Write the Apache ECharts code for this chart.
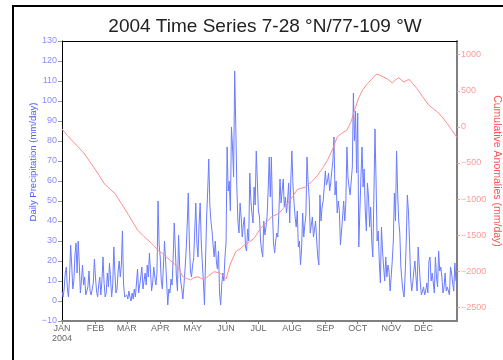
<!DOCTYPE html>
<html>
<head>
<meta charset="utf-8">
<script src="https://cdn.jsdelivr.net/npm/echarts@6/dist/echarts.min.js"></script>
<style>
    html, body { margin: 0; padding: 0; background: #fff; }
    #chart { width: 503px; height: 360px; }
</style>
</head>
<body>
<div id="chart"></div>
<script>
    // day-of-year where each month starts (2004 is a leap year)
    var monthStarts = [0, 31, 60, 91, 121, 152, 182, 213, 244, 274, 305, 335];
    var monthNames = ['JAN', 'FEB', 'MAR', 'APR', 'MAY', 'JUN', 'JUL', 'AUG', 'SEP', 'OCT', 'NOV', 'DEC'];
    var anomalyTicks = [-2500, -2000, -1500, -1000, -500, 0, 500, 1000];

    // daily precipitation (mm/day), one array per month
    var jan = [5, 2, 6, 14, 17, 6, 2, 12, 28, 18, 6, 10, 23, 29, 14, 30, 19, 4, 10, 18, 8, 12, 3, 2, 7, 15, 5, 3, 2, 9, 21];
    var feb = [12, 5, 2, 8, 12, 3, 10, 22, 9, 2, 4, 14, 7, 19, 11, 2, 8, 27, 14, 4, 6, 15, 20, 12, 18, 35, 9, 2, 1];
    var mar = [3, 1, 5, 2, 0, 4, 1, 6, 2, 9, 16, 4, 8, 12, 17, 6, 10, 14, 8, 18, 12, 24, 15, 5, 9, 17, 12, 8, 14, 50, 28];
    var apr = [22, 10, 6, 18, 30, 20, 9, -2, 6, 4, 11, 8, 22, 39, 26, 12, 5, 33, 18, 10, 6, 1, 8, 16, 25, 38, 54, 30, 15, 12];
    var may = [18, 21, 35, 49, 29, 22, 38, 49, 30, 19, 10, -2, 20, 42, 55, 71, 48, 40, 35, 28, 22, 30, 20, 16, 25, 4, -2, 8, 14, 10, 22];
    var jun = [29, 77, 55, 60, 45, 87, 77, 62, 115, 88, 57, 40, 34, 49, 42, 32, 38, 42, 27, 25, 36, 30, 64, 50, 44, 39, 57, 48, 75, 60];
    var jul = [45, 42, 30, 25, 22, 40, 33, 37, 42, 55, 72, 52, 72, 45, 29, 24, 30, 34, 32, 45, 61, 49, 55, 61, 47, 52, 44, 50, 59, 39, 60];
    var aug = [75, 58, 49, 42, 37, 45, 27, 30, 18, 26, 44, 32, 38, 43, 72, 60, 52, 34, 38, 42, 32, 36, 40, 30, 22, 18, 53, 40, 47, 50, 57];
    var sep = [65, 58, 60, 64, 55, 59, 65, 70, 82, 53, 60, 44, 50, 45, 28, 35, 42, 50, 40, 49, 77, 62, 57, 53, 60, 67, 104, 80, 95, 64];
    var oct = [94, 27, 45, 62, 77, 57, 66, 45, 35, 59, 52, 37, 47, 30, 22, 53, 86, 60, 30, 35, 20, 9, 37, 25, 17, 10, 22, 12, 18, 15, 5];
    var nov = [12, 20, 30, 54, 40, 75, 54, 40, 34, 17, 10, 5, 2, 14, 30, 53, 45, 30, 12, 5, 9, 15, 20, 12, 5, 27, 18, 9, 3, 4];
    var dec = [7, 3, 5, 9, 4, 20, 22, 10, 14, 9, 4, 22, 12, 7, 25, 15, 17, 12, 4, 7, 14, 5, 7, 8, 3, 17, 14, 9, 5, 19, 10];
    var precip = jan.concat(feb, mar, apr, may, jun, jul, aug, sep, oct, nov, dec);

    // cumulative anomalies (mm/day), read at these days of the year
    var anomalyDays = [0, 5, 10, 15, 20, 27, 33, 39, 45, 49, 55, 62, 70, 76, 83, 89, 95, 101, 107, 112, 115, 119, 122, 126, 129, 132, 136, 141, 147, 152, 156, 161, 165, 169, 174, 178, 184, 189, 194, 201, 205, 209, 214, 218, 226, 232, 237, 242, 246, 251, 255, 260, 264, 268, 271, 275, 279, 283, 287, 291, 294, 298, 302, 306, 309, 312, 315, 317, 320, 322, 325, 329, 334, 340, 344, 348, 352, 357, 361, 366];
    var anomalyValues = [-30, -120, -200, -278, -360, -507, -640, -784, -870, -922, -1061, -1230, -1430, -1520, -1614, -1706, -1780, -1860, -1937, -2076, -2098, -2121, -2090, -2076, -2100, -2121, -2060, -2007, -2029, -2108, -1900, -1730, -1690, -1637, -1590, -1545, -1406, -1330, -1246, -1199, -1130, -1061, -960, -867, -831, -750, -669, -560, -462, -300, -140, -80, -47, 80, 230, 405, 520, 599, 660, 728, 720, 690, 660, 607, 650, 682, 640, 621, 650, 654, 600, 530, 420, 299, 250, 206, 140, 46, -40, -148];

    var minus = function (v) { return String(v).replace('-', '\u2212'); };
    var labelFont = 'Liberation Sans';

    var myChart = echarts.init(document.getElementById('chart'));
    myChart.setOption({
        animation: false,
        title: {
            text: '2004 Time Series 7-28 °N/77-109 °W',
            left: 260,
            top: 12,
            textAlign: 'center',
            textStyle: { fontFamily: labelFont, fontSize: 19, fontWeight: 'normal', color: '#222' }
        },
        grid: { left: 62, top: 41, width: 395, height: 280 },
        xAxis: [
            {
                type: 'value',
                min: 0,
                max: 366,
                axisLine: { onZero: false, lineStyle: { color: '#808080', width: 2 } },
                axisTick: { customValues: monthStarts, length: 3, lineStyle: { color: '#808080' } },
                axisLabel: {
                    customValues: monthStarts,
                    color: '#666',
                    fontFamily: labelFont,
                    fontSize: 9,
                    margin: 3,
                    lineHeight: 10,
                    formatter: function (v) {
                        var i = monthStarts.indexOf(v);
                        return i === 0 ? 'JAN\n2004' : monthNames[i];
                    }
                },
                splitLine: { show: false }
            },
            {
                type: 'value',
                position: 'top',
                min: 0,
                max: 366,
                axisLine: { onZero: false, lineStyle: { color: '#000', width: 1 } },
                axisTick: { show: false },
                axisLabel: { show: false },
                splitLine: { show: false }
            }
        ],
        yAxis: [
            {
                type: 'value',
                min: -10,
                max: 130,
                interval: 10,
                axisLine: { show: true, onZero: false, lineStyle: { color: '#000', width: 1 } },
                axisTick: { show: true, length: 4, lineStyle: { color: '#8c8cff' } },
                axisLabel: { color: '#8c8cff', fontFamily: labelFont, fontSize: 9, margin: 5, formatter: minus },
                splitLine: { show: false }
            },
            {
                type: 'value',
                position: 'right',
                min: -2690,
                max: 1190,
                axisLine: { show: true, onZero: false, lineStyle: { color: '#808080', width: 2 } },
                axisTick: { show: true, customValues: anomalyTicks, length: 3, lineStyle: { color: '#ff9a9a' } },
                axisLabel: { customValues: anomalyTicks, color: '#ff9a9a', fontFamily: labelFont, fontSize: 9, margin: 4, formatter: minus },
                splitLine: { show: false }
            }
        ],
        series: [
            {
                name: 'Daily Precipitation',
                type: 'line',
                xAxisIndex: 0,
                yAxisIndex: 0,
                symbol: 'none',
                lineStyle: { color: '#6a7cff', width: 1 },
                data: precip.map(function (v, i) { return [i, v]; })
            },
            {
                name: 'Cumulative Anomalies',
                type: 'line',
                xAxisIndex: 0,
                yAxisIndex: 1,
                symbol: 'none',
                lineStyle: { color: '#ff8c8c', width: 1 },
                data: anomalyDays.map(function (d, i) { return [d, anomalyValues[i]]; })
            }
        ],
        graphic: [
            {
                type: 'rect',
                silent: true,
                shape: { x: 13, y: 6, width: 600, height: 600 },
                style: { fill: 'none', stroke: '#000', lineWidth: 2 }
            },
            {
                type: 'text',
                x: 33,
                y: 162,
                rotation: Math.PI / 2,
                style: {
                    text: 'Daily Precipitation (mm/day)',
                    fill: '#4a5cff',
                    font: '9.5px "Liberation Sans"',
                    textAlign: 'center', align: 'center',
                    textVerticalAlign: 'middle', verticalAlign: 'middle'
                }
            },
            {
                type: 'text',
                x: 497,
                y: 171,
                rotation: -Math.PI / 2,
                style: {
                    text: 'Cumulative Anomalies (mm/day)',
                    fill: '#ff5050',
                    font: '10.5px "Liberation Sans"',
                    textAlign: 'center', align: 'center',
                    textVerticalAlign: 'middle', verticalAlign: 'middle'
                }
            }
        ]
    });
</script>
</body>
</html>
